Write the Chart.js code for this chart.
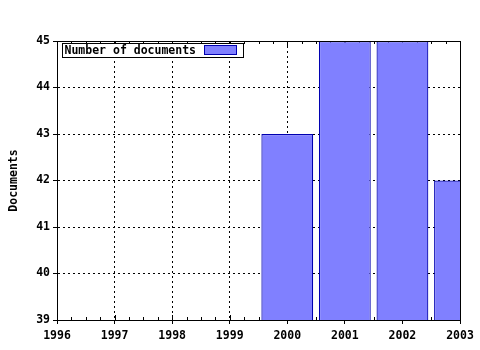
<!DOCTYPE html>
<html>
<head>
<meta charset="utf-8">
<script src="https://cdn.jsdelivr.net/npm/chart.js@4"></script>
<style>
  html, body { margin: 0; background: #fff; }
  #wrap { width: 480px; height: 350px; }
</style>
</head>
<body>
<div id="wrap"><canvas id="docsChart"></canvas></div>
<script>
// data
const years = [2000, 2001, 2002, 2003];
const documents = [43, 45, 45, 42];
const yearRange = [1996, 2003];
const docRange = [39, 45];

const BAR_FILL = '#8080ff';
const BAR_EDGE = '#0000b0';
const FONT = "bold 11.5px 'DejaVu Sans Mono', monospace";

Chart.defaults.font.family = "'DejaVu Sans Mono', monospace";
Chart.defaults.font.size = 11.5;
Chart.defaults.font.weight = 'bold';
Chart.defaults.color = '#000';

// box, mirrored/minor ticks and in-plot legend (gnuplot style)
const framePlugin = {
    id: 'frame',
    beforeDatasetsDraw(chart) {
        const { ctx, chartArea: a, scales: { x } } = chart;
        ctx.save();
        ctx.strokeStyle = '#000';
        ctx.lineWidth = 1;
        ctx.beginPath();
        for (let v = yearRange[0]; v <= yearRange[1] + 1e-9; v += 0.25) {
            const px = Math.round(x.getPixelForValue(v)) + 0.5;
            const len = Number.isInteger(v) ? 5 : 3;
            ctx.moveTo(px, a.bottom); ctx.lineTo(px, a.bottom - len);
            ctx.moveTo(px, a.top); ctx.lineTo(px, a.top + len);
        }
        ctx.stroke();
        ctx.restore();
    },
    afterDraw(chart) {
        const { ctx, chartArea: a } = chart;
        ctx.save();
        ctx.strokeStyle = '#000';
        ctx.lineWidth = 1;
        ctx.strokeRect(Math.round(a.left) + 0.5, Math.round(a.top) + 0.5,
            Math.round(a.right - a.left), Math.round(a.bottom - a.top));

        // legend
        const lx = Math.round(a.left) + 5.5, ly = Math.round(a.top) + 2.5;
        ctx.fillStyle = '#fff';
        ctx.fillRect(lx, ly, 181, 14);
        ctx.strokeRect(lx, ly, 181, 14);
        ctx.fillStyle = '#000';
        ctx.font = FONT;
        ctx.textBaseline = 'middle';
        ctx.fillText(chart.data.datasets[0].label, lx + 2, ly + 7.5);
        ctx.fillStyle = BAR_FILL;
        ctx.fillRect(lx + 142, ly + 2, 32, 9);
        ctx.strokeStyle = BAR_EDGE;
        ctx.strokeRect(lx + 142, ly + 2, 32, 9);
        ctx.restore();
    }
};

new Chart(document.getElementById('docsChart'), {
    type: 'bar',
    data: {
        datasets: [{
            label: 'Number of documents',
            data: years.map((yr, i) => ({ x: yr, y: documents[i] })),
            backgroundColor: BAR_FILL,
            borderColor: BAR_EDGE,
            borderWidth: 1.2,
            barPercentage: 0.9,
            categoryPercentage: 1,
        }]
    },
    options: {
        responsive: true,
        maintainAspectRatio: false,
        animation: false,
        layout: { padding: { top: 41, right: 20, left: 0, bottom: 0 } },
        plugins: { legend: { display: false }, tooltip: { enabled: false } },
        scales: {
            x: {
                type: 'linear',
                min: yearRange[0], max: yearRange[1],
                offset: false,
                grid: { offset: false, color: '#000', lineWidth: 1, tickLength: 4 },
                border: { display: true, color: '#000', dash: [2, 3] },
                ticks: { stepSize: 1, padding: 5, maxRotation: 0, callback: v => String(v) },
                afterFit: s => { s.height = 30; s.paddingLeft = 0; s.paddingRight = 0; }
            },
            y: {
                min: docRange[0], max: docRange[1],
                grid: { color: '#000', lineWidth: 1, tickLength: 4 },
                border: { display: true, color: '#000', dash: [2, 3] },
                ticks: { stepSize: 1, padding: 3 },
                title: { display: true, text: 'Documents', padding: { top: 7, bottom: 0 } },
                afterFit: s => { s.width = 57; s.paddingTop = 0; s.paddingBottom = 0; }
            }
        }
    },
    plugins: [framePlugin]
});
</script>
</body>
</html>
